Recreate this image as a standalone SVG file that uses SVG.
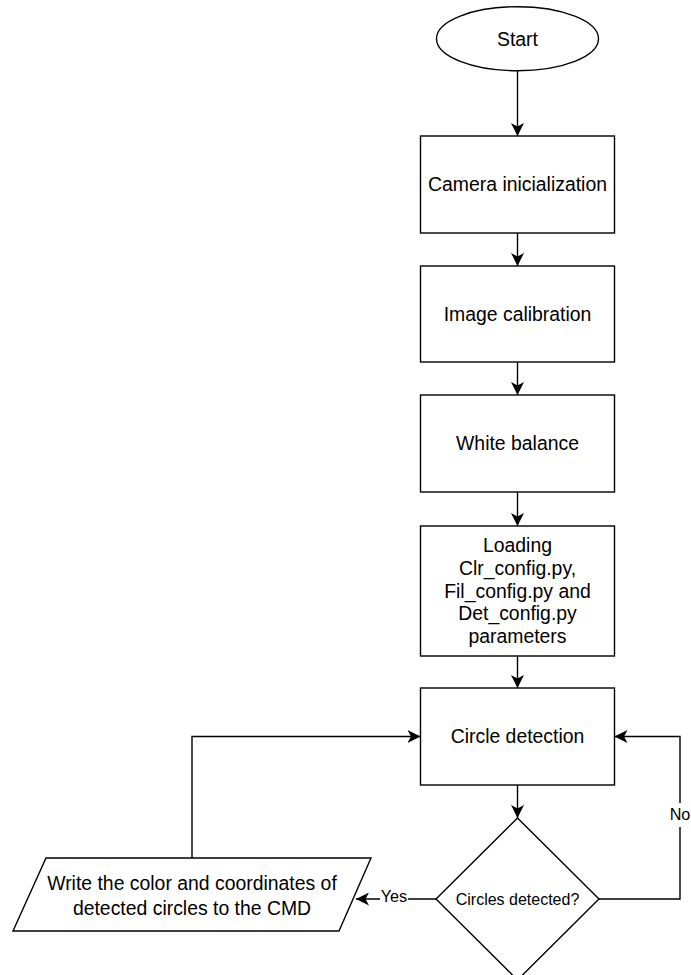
<svg xmlns="http://www.w3.org/2000/svg" width="691" height="975" viewBox="0 0 691 975">
  <style>
    .shape { fill: #ffffff; stroke: #000000; stroke-width: 1.4; }
    .edge { fill: none; stroke: #000000; stroke-width: 1.4; }
    .lbl { font-family: "Liberation Sans", Arial, sans-serif; font-size: 19.4px; fill: #000000; text-anchor: middle; }
    .small { font-size: 16px; }
    .tag { font-size: 16.2px; }
    .bg { fill: #ffffff; stroke: none; }
  </style>
  <defs>
    <marker id="arrow" markerUnits="userSpaceOnUse" markerWidth="13" markerHeight="13" viewBox="0 0 13 13" refX="13" refY="6.5" orient="auto">
      <path d="M0,0 L13,6.5 L0,13 L3.5,6.5 Z" fill="#000000"/>
    </marker>
  </defs>
  <rect width="691" height="975" fill="#ffffff"/>

  <!-- connectors -->
  <g id="connectors">
    <path class="edge" d="M517.5,70.7 V136" marker-end="url(#arrow)"/>
    <path class="edge" d="M517.5,233 V266" marker-end="url(#arrow)"/>
    <path class="edge" d="M517.5,362 V395" marker-end="url(#arrow)"/>
    <path class="edge" d="M517.5,492 V526" marker-end="url(#arrow)"/>
    <path class="edge" d="M517.5,656 V688" marker-end="url(#arrow)"/>
    <path class="edge" d="M517.5,785 V818" marker-end="url(#arrow)"/>
    <path class="edge" d="M599,899 H680 V736.5 H614.5" marker-end="url(#arrow)"/>
    <path class="edge" d="M436,899 H356" marker-end="url(#arrow)"/>
    <path class="edge" d="M192,858 V736.5 H420.5" marker-end="url(#arrow)"/>
    <!-- edge labels -->
    <rect class="bg" x="668" y="803" width="23" height="24"/>
    <text class="lbl tag" x="680" y="819.5">No</text>
    <rect class="bg" x="380" y="888" width="28" height="18"/>
    <text class="lbl tag" x="394" y="902">Yes</text>
  </g>

  <g id="start">
    <ellipse class="shape" cx="517.5" cy="38.7" rx="81" ry="32"/>
    <text class="lbl" x="517.5" y="45.6">Start</text>
  </g>

  <g id="camera-init">
    <rect class="shape" x="420.5" y="136" width="194" height="97"/>
    <text class="lbl" x="517.5" y="191.4">Camera inicialization</text>
  </g>

  <g id="image-calibration">
    <rect class="shape" x="420.5" y="266" width="194" height="96"/>
    <text class="lbl" x="517.5" y="320.9">Image calibration</text>
  </g>

  <g id="white-balance">
    <rect class="shape" x="420.5" y="395" width="194" height="97"/>
    <text class="lbl" x="517.5" y="450.1">White balance</text>
  </g>

  <g id="loading-config">
    <rect class="shape" x="420.5" y="526" width="194" height="130"/>
    <text class="lbl" x="517.5" y="552">Loading</text>
    <text class="lbl" x="517.5" y="574.8">Clr_config.py,</text>
    <text class="lbl" x="517.5" y="597.6">Fil_config.py and</text>
    <text class="lbl" x="517.5" y="620.4">Det_config.py</text>
    <text class="lbl" x="517.5" y="643.2">parameters</text>
  </g>

  <g id="circle-detection">
    <rect class="shape" x="420.5" y="688" width="194" height="97"/>
    <text class="lbl" x="517.5" y="743.4">Circle detection</text>
  </g>

  <g id="circles-detected">
    <polygon class="shape" points="517.5,818 599,899 517.5,980 436,899"/>
    <text class="lbl small" x="517.5" y="904.8">Circles detected?</text>
  </g>

  <g id="write-output">
    <polygon class="shape" points="46,858 371,858 339,931 13,931"/>
    <text class="lbl" x="192" y="889.9">Write the color and coordinates of</text>
    <text class="lbl" x="192" y="914.9">detected circles to the CMD</text>
  </g>
</svg>
